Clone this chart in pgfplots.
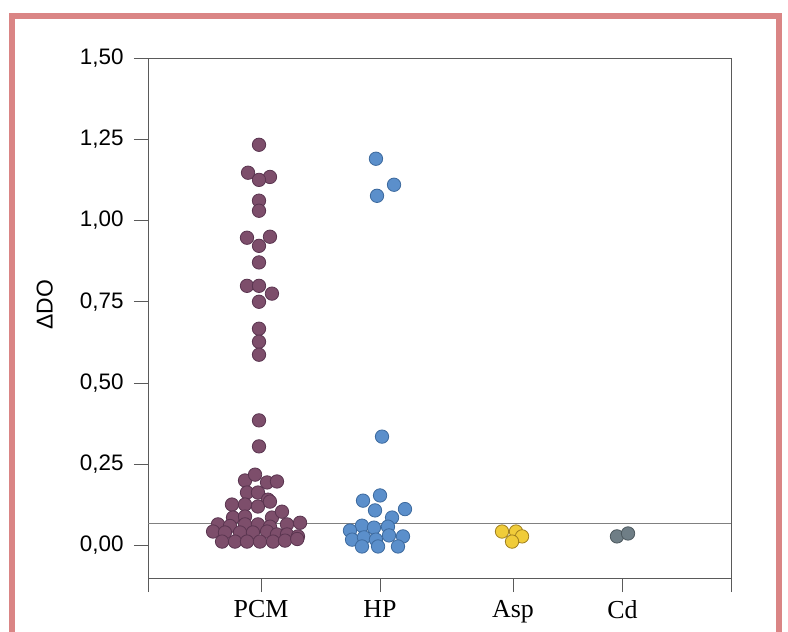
\documentclass[border=0pt]{standalone}
\usepackage{fontspec}
\usepackage{pgfplots}
\pgfplotsset{compat=1.18}
\setmainfont{Liberation Serif}
\newfontfamily\arial{Liberation Sans}
\definecolor{pcmfill}{HTML}{7D4E6B}
\definecolor{pcmedge}{HTML}{5A3550}
\definecolor{hpfill}{HTML}{5B8FCB}
\definecolor{hpedge}{HTML}{3D6A9E}
\definecolor{aspfill}{HTML}{F0CC3A}
\definecolor{aspedge}{HTML}{A08020}
\definecolor{cdfill}{HTML}{6F7E86}
\definecolor{cdedge}{HTML}{4C585E}
\definecolor{frame}{HTML}{DA8585}
\definecolor{axisgray}{HTML}{5A5A5A}
\begin{document}
\begin{tikzpicture}
\path[use as bounding box] (0,0) rectangle (788bp,632bp);
\draw[frame, line width=6bp] (12bp,0) -- (12bp,616bp) -- (779bp,616bp) -- (779bp,0);
\begin{axis}[
  at={(148bp,54bp)}, anchor=south west,
  scale only axis, width=583bp, height=520bp,
  xmin=0, xmax=5, ymin=-0.1, ymax=1.5,
  axis line style={draw=axisgray, line width=0.9bp},
  tick style={draw=axisgray, line width=0.9bp},
  tick align=outside, major tick length=14bp,
  xtick pos=bottom, ytick pos=left,
  xtick={0,0.97,1.99,3.13,4.07,5},
  xticklabels={,PCM,HP,Asp,Cd,},
  xticklabel style={font=\fontsize{26}{30}\selectfont, yshift=-5bp},
  ytick={0,0.25,0.5,0.75,1,1.25,1.5},
  yticklabel style={font=\arial\fontsize{22.5}{26}\selectfont, xshift=-7bp,
    /pgf/number format/.cd, fixed, fixed zerofill, precision=2, use comma, assume math mode=true},
  ylabel={\arial\fontsize{23}{26}\selectfont ΔDO},
  ylabel style={at={(axis description cs:-0.177,0.525)}, anchor=center},
  every axis plot/.append style={only marks, mark=*, mark size=6.7bp},
]
\addplot[gray, line width=0.8bp, no markers, sharp plot] coordinates {(0,0.068) (5,0.068)};
% PCM
\addplot[mark options={fill=pcmfill, draw=pcmedge, line width=0.8bp}] coordinates {
(0.952,1.233)
(0.858,1.147) (1.046,1.134) (0.952,1.125)
(0.952,1.061) (0.952,1.030)
(0.849,0.947) (1.046,0.950) (0.952,0.922)
(0.952,0.871)
(0.849,0.799) (0.952,0.799) (1.063,0.775) (0.952,0.750)
(0.952,0.667) (0.952,0.627) (0.952,0.587)
(0.952,0.385) (0.952,0.305)
(0.832,0.200) (0.918,0.218) (1.021,0.194) (1.106,0.197)
(0.849,0.163) (0.943,0.163) (1.029,0.141)
(0.720,0.126) (0.832,0.126) (0.943,0.120) (1.046,0.135)
(0.729,0.086) (0.832,0.089) (1.063,0.086) (1.149,0.104)
(0.600,0.065) (0.703,0.060) (0.832,0.065) (0.943,0.065) (1.046,0.058) (1.192,0.065) (1.304,0.070)
(0.558,0.043) (0.660,0.040) (0.789,0.040) (0.900,0.040) (1.021,0.043) (1.106,0.034) (1.192,0.034) (1.286,0.028)
(0.635,0.012) (0.746,0.012) (0.849,0.012) (0.960,0.012) (1.072,0.012) (1.175,0.015) (1.280,0.020)
};
% HP
\addplot[mark options={fill=hpfill, draw=hpedge, line width=0.8bp}] coordinates {
(1.955,1.190) (2.110,1.110) (1.964,1.076)
(2.007,0.335)
(1.990,0.154) (1.844,0.138) (1.947,0.108) (2.204,0.112) (2.093,0.086)
(1.835,0.061) (1.938,0.055) (2.058,0.058) (1.732,0.046)
(1.750,0.018) (1.852,0.025) (1.955,0.018) (2.067,0.031) (2.187,0.028)
(1.835,-0.003) (1.973,-0.003) (2.144,-0.003)
};
% Asp
\addplot[mark options={fill=aspfill, draw=aspedge, line width=0.8bp}] coordinates {
(3.036,0.043) (3.156,0.043) (3.208,0.028) (3.122,0.012)
};
% Cd
\addplot[mark options={fill=cdfill, draw=cdedge, line width=0.8bp}] coordinates {
(4.022,0.028) (4.117,0.037)
};
\end{axis}
\end{tikzpicture}
\end{document}
